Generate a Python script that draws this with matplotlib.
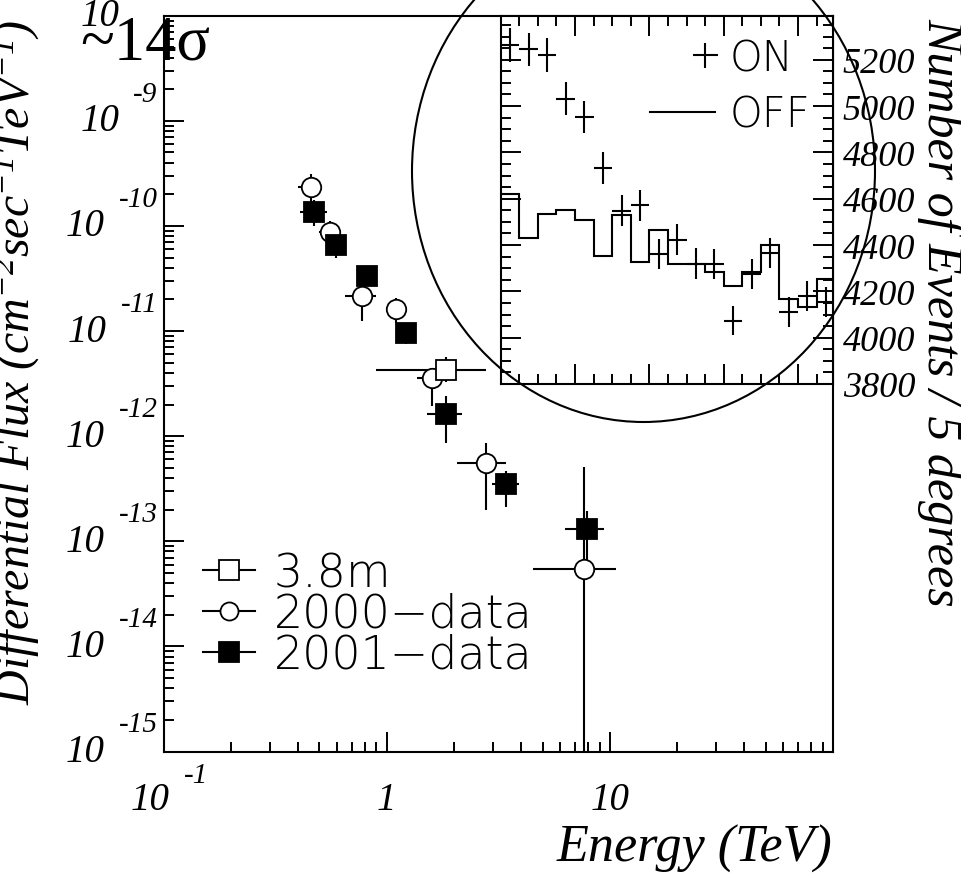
import numpy as np
import matplotlib
matplotlib.use('Agg')
import matplotlib.pyplot as plt
from matplotlib import transforms
from matplotlib.patches import Ellipse
from matplotlib.lines import Line2D
from matplotlib.legend_handler import HandlerLine2D
from matplotlib.ticker import LogLocator, MultipleLocator, NullFormatter

plt.rcParams['font.family'] = 'Liberation Serif'
plt.rcParams['font.style'] = 'italic'
plt.rcParams['mathtext.fontset'] = 'custom'
plt.rcParams['mathtext.it'] = 'Liberation Serif:italic'
plt.rcParams['mathtext.rm'] = 'Liberation Serif:italic'
plt.rcParams['mathtext.default'] = 'it'

# ---- spectrum: energy (TeV) and differential flux, with error ranges ----
# 3.8m telescope
e_38 = [1.84]
e_38_lo = [0.90]
e_38_hi = [2.80]
f_38 = [4.3e-12]
f_38_lo = [3.3e-12]
f_38_hi = [5.7e-12]

# 2000 data
e_00 = [0.456, 0.555, 0.773, 1.105, 1.59, 2.78, 7.67]
e_00_lo = [0.40, 0.50, 0.65, 1.00, 1.37, 2.07, 4.53]
e_00_hi = [0.515, 0.62, 0.893, 1.22, 1.85, 3.42, 10.7]
f_00 = [2.37e-10, 8.7e-11, 2.17e-11, 1.62e-11, 3.6e-12, 5.5e-13, 5.4e-14]
f_00_lo = [1.6e-10, 7.0e-11, 1.25e-11, 1.2e-11, 1.95e-12, 2.0e-13, 1e-16]
f_00_hi = [3.1e-10, 1.12e-10, 2.6e-11, 2.05e-11, 4.3e-12, 8.7e-13, 5.1e-13]

# 2001 data
e_01 = [0.472, 0.595, 0.819, 1.225, 1.84, 3.42, 7.94]
e_01_lo = [0.41, 0.57, 0.79, 1.18, 1.52, 2.96, 6.3]
e_01_hi = [0.54, 0.62, 0.85, 1.27, 2.18, 3.90, 9.42]
f_01 = [1.35e-10, 6.6e-11, 3.37e-11, 9.6e-12, 1.64e-12, 3.5e-13, 1.3e-13]
f_01_lo = [1.0e-10, 5.0e-11, 3.0e-11, 7.5e-12, 8.7e-13, 2.1e-13, 6.7e-14]
f_01_hi = [1.75e-10, 8.5e-11, 3.8e-11, 1.2e-11, 2.42e-12, 4.7e-13, 1.95e-13]

# ---- inset: events per 5 degree bin ----
ang_edges = np.arange(0, 95, 5)
on_counts = [5263, 5245, 5220, 5032, 4953, 4734, 4547, 4571, 4362,
             4423, 4319, 4318, 4074, 4276, 4366, 4110, 4179, 4153]
on_err = [73, 72, 72, 71, 70, 69, 67, 68, 66,
          66, 66, 66, 64, 65, 66, 64, 65, 64]
off_counts = [4622, 4430, 4535, 4552, 4510, 4352, 4528, 4326, 4466,
              4319, 4319, 4283, 4225, 4283, 4398, 4165, 4132, 4254]

W, H = 961, 887
fig = plt.figure(figsize=(W/100, H/100), dpi=100)

# main axes
ax = fig.add_axes([163.5/W, 1-752.5/H, (833-163.5)/W, (752.5-16.7)/H])
ax.set_xscale('log')
ax.set_yscale('log')
ax.set_xlim(0.1, 100)
ax.set_ylim(1e-15, 1e-8)
for s in ax.spines.values():
    s.set_linewidth(1.5)
ax.xaxis.set_minor_locator(LogLocator(base=10, subs=np.arange(2, 10), numticks=50))
ax.yaxis.set_minor_locator(LogLocator(base=10, subs=np.arange(2, 10), numticks=50))
ax.xaxis.set_minor_formatter(NullFormatter())
ax.yaxis.set_minor_formatter(NullFormatter())
ax.tick_params(which='both', direction='in', top=False, right=False,
               labelbottom=False, labelleft=False, width=1.4)
ax.tick_params(which='major', length=14.4)
ax.tick_params(which='minor', length=7.5)


def spectrum(e, elo, ehi, f, flo, fhi, **mk):
    e = np.asarray(e); f = np.asarray(f)
    ax.errorbar(e, f, xerr=[e - np.asarray(elo), np.asarray(ehi) - e],
                yerr=[f - np.asarray(flo), np.asarray(fhi) - f],
                fmt='none', ecolor='k', elinewidth=1.5, capsize=0, zorder=2)
    ax.plot(e, f, ls='none', mec='k', mew=1.3, zorder=3, **mk)


spectrum(e_00, e_00_lo, e_00_hi, f_00, f_00_lo, f_00_hi, marker='o', ms=14, mfc='white')
spectrum(e_01, e_01_lo, e_01_hi, f_01, f_01_lo, f_01_hi, marker='s', ms=14, mfc='k')
spectrum(e_38, e_38_lo, e_38_hi, f_38, f_38_lo, f_38_hi, marker='s', ms=14, mfc='white')

# log tick labels drawn as "10" plus a raised exponent
lab_big = 28
lab_exp = 21
ytr = transforms.blended_transform_factory(ax.transAxes, ax.transData)
for k in range(-15, -7):
    ex = ax.text(0, 10.0**k, '%d' % k, fontsize=lab_exp, ha='right', va='center',
                 transform=transforms.offset_copy(ytr, fig, x=-6, y=27, units='dots'))
    ax.annotate('10', xy=(0, 0.5), xycoords=ex, xytext=(-14, -27),
                textcoords='offset pixels', ha='right', va='center', fontsize=lab_big)

xtr = transforms.blended_transform_factory(ax.transData, ax.transAxes)
for k in range(-1, 2):
    if k < 0:
        ax.text(10.0**k, 0, '10', fontsize=lab_big, ha='right', va='center',
                transform=transforms.offset_copy(xtr, fig, x=6, y=-48, units='dots'))
        ax.text(10.0**k, 0, '%d' % k, fontsize=lab_exp, ha='left', va='center',
                transform=transforms.offset_copy(xtr, fig, x=20, y=-24, units='dots'))
    else:
        ax.text(10.0**k, 0, '%d' % 10**k, fontsize=lab_big, ha='center', va='center',
                transform=transforms.offset_copy(xtr, fig, x=0, y=-48, units='dots'))

leg_font = {'family': 'DejaVu Sans', 'size': 33, 'weight': 200, 'style': 'normal'}
h38 = Line2D([], [], color='k', lw=1.5, marker='s', ms=14, mfc='white', mec='k', mew=1.3)
h00 = Line2D([], [], color='k', lw=1.5, marker='o', ms=13, mfc='white', mec='k', mew=1.3)
h01 = Line2D([], [], color='k', lw=1.5, marker='s', ms=14, mfc='k', mec='k', mew=1.3)
ax.legend([h38, h00, h01], ['3.8m', '2000\u2212data', '2001\u2212data'],
          loc='upper left', bbox_to_anchor=(203/W, 1-552/H), bbox_transform=fig.transFigure,
          frameon=False, prop=leg_font, handlelength=1.13, handletextpad=0.42,
          labelspacing=-0.07, borderpad=0, borderaxespad=0)

# inset
ax_in = fig.add_axes([500.7/W, 1-385/H, (833-500.7)/W, (385-16.7)/H])
ax_in.set_xlim(0, 89.4)
ax_in.set_ylim(3800, 5390)
for s in ax_in.spines.values():
    s.set_linewidth(1.5)
ax_in.stairs(off_counts, ang_edges, color='k', lw=1.5, baseline=None)
centers = ang_edges[:-1] + 2.5
ax_in.errorbar(centers, on_counts, xerr=2.5, yerr=on_err, fmt='none',
               ecolor='k', elinewidth=1.5, capsize=0)
ax_in.xaxis.set_major_locator(MultipleLocator(20))
ax_in.xaxis.set_minor_locator(MultipleLocator(5))
ax_in.yaxis.set_major_locator(MultipleLocator(200))
ax_in.yaxis.set_minor_locator(MultipleLocator(50))
ax_in.tick_params(which='both', direction='in', top=True, bottom=True, left=True,
                  right=True, labeltop=True, labelbottom=False, labelleft=False,
                  labelright=True, width=1.4, labelsize=26)
ax_in.tick_params(which='major', length=14.4, pad=7)
ax_in.tick_params(which='minor', length=7.2)
ax_in.set_ylabel('Number of Events / 5 degrees', fontsize=36, rotation=270,
                 labelpad=0)
ax_in.yaxis.set_label_position('right')
ax_in.yaxis.set_label_coords(928/W, 1-18/H, transform=fig.transFigure)
ax_in.yaxis.label.set_rotation_mode('anchor')
ax_in.yaxis.label.set_ha('left')
ax_in.yaxis.label.set_va('baseline')


class HandlerRightMarker(HandlerLine2D):
    # put the single marker at the right end of the handle box
    def create_artists(self, legend, orig_handle, xdescent, ydescent, width,
                       height, fontsize, trans):
        arts = super().create_artists(legend, orig_handle, xdescent, ydescent,
                                      width, height, fontsize, trans)
        for a in arts:
            a.set_xdata(np.asarray(a.get_xdata()) + width / 2 - 7.2)
        return arts


h_on = Line2D([], [], ls='none', marker='+', ms=18, mew=1.5, color='k')
h_off = Line2D([], [], color='k', lw=1.5)
ax_in.legend([h_on, h_off], ['ON', 'OFF'], loc='upper right',
             bbox_to_anchor=(810/W, 1-38/H), bbox_transform=fig.transFigure,
             frameon=False, handler_map={h_on: HandlerRightMarker(numpoints=1)},
             prop={'family': 'DejaVu Sans', 'size': 30, 'weight': 200, 'style': 'normal'},
             handlelength=1.56, handletextpad=0.34, labelspacing=0.38,
             borderpad=0, borderaxespad=0)

# axis titles
fig.text(30/W, 1-705/H, 'Differential Flux (cm$^{-2}$sec$^{-1}$TeV$^{-1}$)',
         fontsize=34.5, rotation=90, rotation_mode='anchor', ha='left', va='baseline')
fig.text(832/W, 1-862/H, 'Energy (TeV)', fontsize=37.5, ha='right', va='baseline')

fig.add_artist(Ellipse((643.5/W, 1-172/H), 463/W, 502/H, transform=fig.transFigure,
                       fill=False, ec='k', lw=1.5, zorder=10))
fig.text(80/W, 1-60/H, '~14\u03c3', fontsize=45, style='normal', ha='left',
         va='baseline', zorder=11)

fig.savefig('out.png', dpi=100)
